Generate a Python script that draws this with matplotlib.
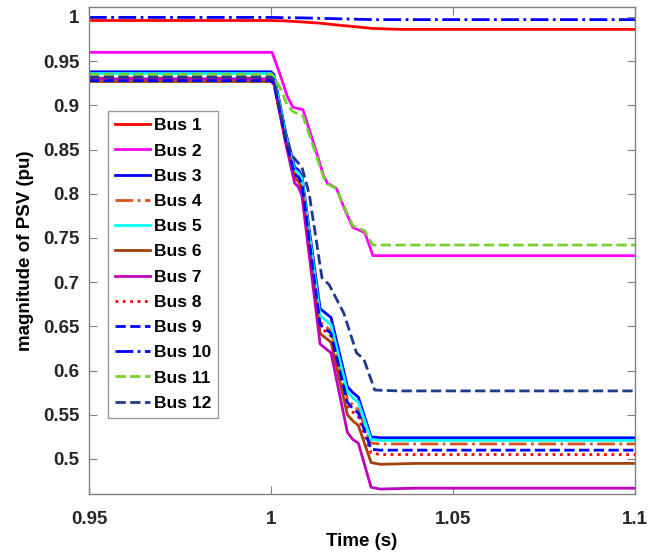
import matplotlib
matplotlib.use('Agg')
import matplotlib.pyplot as plt
from matplotlib.ticker import FuncFormatter

# time knots (s)
t_grp = [0.95, 1.0, 1.0008, 1.004, 1.0065, 1.0075, 1.0085, 1.0135, 1.0150, 1.0165,
         1.0210, 1.0225, 1.0240, 1.0275, 1.0300, 1.0400, 1.1]
t_slow = [0.95, 1.0003, 1.0025, 1.0045, 1.006, 1.0088, 1.0115, 1.0145, 1.0155, 1.018,
          1.0205, 1.0225, 1.0258, 1.028, 1.035, 1.1]
t_b12 = [0.95, 1.0, 1.0008, 1.004, 1.0058, 1.0085, 1.0105, 1.0140, 1.0160, 1.0200,
         1.0235, 1.0255, 1.0285, 1.035, 1.1]
t_top = [0.95, 1.0, 1.004, 1.008, 1.0135, 1.018, 1.023, 1.028, 1.035, 1.1]

# bus voltages (pu)
bus1 = [0.996, 0.996, 0.9955, 0.9945, 0.993, 0.991, 0.989, 0.987, 0.986, 0.986]
bus10 = [0.9995, 0.9995, 0.9992, 0.999, 0.9985, 0.998, 0.9975, 0.997, 0.997, 0.997]
bus2 = [0.96, 0.96, 0.935, 0.91, 0.898, 0.895, 0.86, 0.82, 0.812, 0.806,
        0.78, 0.762, 0.756, 0.73, 0.73, 0.73]
bus11 = [0.935, 0.935, 0.92, 0.90, 0.893, 0.888, 0.855, 0.818, 0.811, 0.806,
         0.782, 0.764, 0.758, 0.742, 0.742, 0.742]
bus12 = [0.932, 0.932, 0.929, 0.865, 0.843, 0.83, 0.80, 0.705, 0.697, 0.665,
         0.62, 0.613, 0.578, 0.577, 0.577]
bus3 = [0.938, 0.938, 0.935, 0.87, 0.83, 0.827, 0.82, 0.67, 0.665, 0.66,
        0.582, 0.575, 0.57, 0.525, 0.524, 0.524, 0.524]
bus5 = [0.936, 0.936, 0.933, 0.867, 0.827, 0.824, 0.817, 0.662, 0.657, 0.652,
        0.576, 0.569, 0.564, 0.522, 0.521, 0.521, 0.521]
bus4 = [0.931, 0.931, 0.928, 0.864, 0.823, 0.82, 0.813, 0.655, 0.65, 0.645,
        0.568, 0.561, 0.556, 0.518, 0.517, 0.517, 0.517]
bus9 = [0.928, 0.928, 0.925, 0.862, 0.822, 0.819, 0.812, 0.652, 0.647, 0.642,
        0.564, 0.557, 0.552, 0.511, 0.510, 0.510, 0.510]
bus8 = [0.929, 0.929, 0.926, 0.861, 0.821, 0.818, 0.81, 0.649, 0.644, 0.639,
        0.56, 0.553, 0.548, 0.507, 0.505, 0.505, 0.505]
bus6 = [0.927, 0.927, 0.924, 0.86, 0.818, 0.814, 0.806, 0.642, 0.637, 0.632,
        0.55, 0.543, 0.538, 0.496, 0.494, 0.495, 0.495]
bus7 = [0.930, 0.930, 0.926, 0.858, 0.812, 0.808, 0.798, 0.63, 0.625, 0.62,
        0.53, 0.522, 0.518, 0.468, 0.466, 0.467, 0.467]

series = [
    ('Bus 1', t_top, bus1, '#FF0000', '-'),
    ('Bus 2', t_slow, bus2, '#FF00FF', '-'),
    ('Bus 3', t_grp, bus3, '#0000FF', '-'),
    ('Bus 4', t_grp, bus4, '#D95319', '-.'),
    ('Bus 5', t_grp, bus5, '#00FFFF', '-'),
    ('Bus 6', t_grp, bus6, '#A2410D', '-'),
    ('Bus 7', t_grp, bus7, '#BF00BF', '-'),
    ('Bus 8', t_grp, bus8, '#FF0000', ':'),
    ('Bus 9', t_grp, bus9, '#0000FF', '--'),
    ('Bus 10', t_top, bus10, '#0000FF', '-.'),
    ('Bus 11', t_slow, bus11, '#77D22F', '--'),
    ('Bus 12', t_b12, bus12, '#1F3A8C', '--'),
]

plt.rcParams['font.family'] = ['Liberation Sans', 'DejaVu Sans']
plt.rcParams['font.weight'] = 'bold'

fig = plt.figure(figsize=(6.67, 5.54), dpi=100)
ax = fig.add_axes([0.1334, 0.1083, 0.8186, 0.8791])

for name, t, v, c, ls in series:
    ax.plot(t, v, color=c, linestyle=ls, linewidth=2, label=name)

ax.set_xlim(0.95, 1.1)
ax.set_ylim(0.4604, 1.0113)
ax.set_xticks([0.95, 1.0, 1.05, 1.1])
ax.set_yticks([0.5, 0.55, 0.6, 0.65, 0.7, 0.75, 0.8, 0.85, 0.9, 0.95, 1.0])
fmt = FuncFormatter(lambda v, p: '%g' % round(v, 4))
ax.xaxis.set_major_formatter(fmt)
ax.yaxis.set_major_formatter(fmt)
ax.tick_params(direction='in', top=True, right=True, length=6, width=0.8,
               color='#808080', labelsize=13.5, labelcolor='#262626')
ax.tick_params(axis='x', pad=12)
ax.tick_params(axis='y', pad=7)
for sp in ax.spines.values():
    sp.set_color('#808080')
    sp.set_linewidth(1)

ax.set_xlabel('Time (s)', fontsize=13.5, fontweight='bold', labelpad=4)
ax.set_ylabel('magnitude of PSV (pu)', fontsize=13.5, fontweight='bold', labelpad=6)

leg = ax.legend(loc='upper left', bbox_to_anchor=(0.035, 0.786),
                prop={'weight': 'bold', 'size': 12.5}, frameon=True, fancybox=False,
                handlelength=2.0, handletextpad=0.25, labelspacing=0.58,
                borderpad=0.4, borderaxespad=0)
leg.get_frame().set_edgecolor('#808080')
leg.get_frame().set_linewidth(1)

fig.savefig('out.png', dpi=100)
